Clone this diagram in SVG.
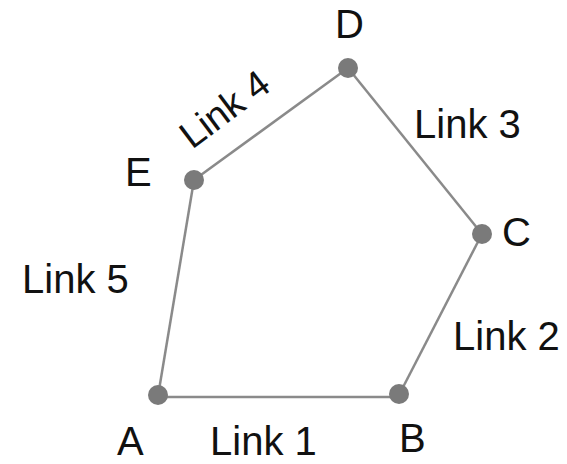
<svg xmlns="http://www.w3.org/2000/svg" width="567" height="464" viewBox="0 0 567 464">
<style>
.l{stroke:#8a8a8a;stroke-width:2.5;fill:none}
.n{fill:#7a7a7a}
text{font-family:"Liberation Sans",Arial,sans-serif;font-size:40px;fill:#111}
</style>
<rect width="567" height="464" fill="#fff"/>
<g id="links">
<line class="l" x1="158" y1="397" x2="399" y2="397"/>
<line class="l" x1="399" y1="395" x2="482" y2="234"/>
<line class="l" x1="482" y1="234" x2="348" y2="68"/>
<line class="l" x1="348" y1="68" x2="194" y2="180"/>
<line class="l" x1="194" y1="180" x2="158" y2="396"/>
<text x="210" y="455">Link 1</text>
<text x="453" y="350">Link 2</text>
<text x="414" y="138">Link 3</text>
<text transform="translate(192,150) rotate(-37)" style="font-size:38px">Link 4</text>
<text x="22" y="293">Link 5</text>
</g>
<g id="A"><circle class="n" cx="158" cy="395" r="10"/><text x="117" y="455">A</text></g>
<g id="B"><circle class="n" cx="399" cy="394" r="10"/><text x="399" y="452">B</text></g>
<g id="C"><circle class="n" cx="482" cy="234" r="10"/><text x="502" y="246">C</text></g>
<g id="D"><circle class="n" cx="348" cy="68" r="10"/><text x="335" y="38">D</text></g>
<g id="E"><circle class="n" cx="194" cy="180" r="10"/><text x="125" y="186">E</text></g>
</svg>
